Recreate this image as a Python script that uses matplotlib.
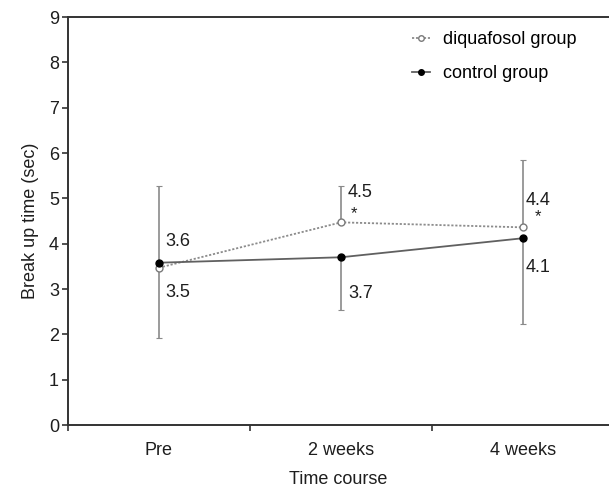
import matplotlib.pyplot as plt

plt.rcParams['font.family'] = ['Liberation Sans', 'DejaVu Sans']

categories = ['Pre', '2 weeks', '4 weeks']
diquafosol = [3.47, 4.47, 4.36]
control = [3.58, 3.70, 4.12]
# upper whisker shown for diquafosol, lower whisker for control
diq_err_up = [1.81, 0.80, 1.48]
ctl_err_down = [1.66, 1.16, 1.89]
diq_labels = ['3.5', '4.5', '4.4']
ctl_labels = ['3.6', '3.7', '4.1']
signif = ['', '*', '*']

xpos = [0.5, 1.5, 2.5]

W, H = 609, 488
fig = plt.figure(figsize=(W / 100, H / 100), dpi=100)
ax = fig.add_axes([68 / W, 63 / H, (W - 68) / W, 408 / H])

err_col = '#8a8a8a'
ax.errorbar(xpos, diquafosol, yerr=[[0, 0, 0], diq_err_up], fmt='none',
            ecolor=err_col, elinewidth=1.2, capsize=2, capthick=0.8, zorder=1)
ax.errorbar(xpos, control, yerr=[ctl_err_down, [0, 0, 0]], fmt='none',
            ecolor=err_col, elinewidth=1.2, capsize=2, capthick=0.8, zorder=1)

ax.plot(xpos, diquafosol, linestyle=(0, (1.2, 1.0)), color='#8c8c8c', lw=1.3,
        marker='o', markersize=5, markerfacecolor='white',
        markeredgecolor='#7a7a7a', markeredgewidth=1.0,
        label='diquafosol group', zorder=3)
ax.plot(xpos, control, linestyle='-', color='#606060', lw=1.3,
        marker='o', markersize=5, markerfacecolor='black',
        markeredgecolor='black', label='control group', zorder=3)

# value labels
txt = dict(fontsize=13, color='#1e1e1e', ha='left', va='center')
ax.text(0.533, 4.05, ctl_labels[0], **txt)
ax.text(0.533, 2.93, diq_labels[0], **txt)
ax.text(1.538, 5.12, diq_labels[1], **txt)
ax.text(1.538, 2.91, ctl_labels[1], **txt)
ax.text(2.516, 4.96, diq_labels[2], **txt)
ax.text(2.516, 3.47, ctl_labels[2], **txt)
ax.text(1.556, 4.66, signif[1], fontsize=12, color='#1e1e1e',
        ha='left', va='center')
ax.text(2.567, 4.60, signif[2], fontsize=12, color='#1e1e1e',
        ha='left', va='center')

ax.set_xlim(0, (W - 68) / 182)
ax.set_ylim(0, 9)
ax.set_yticks(range(10))
ax.set_xticks([0, 1, 2])
ax.set_xticklabels([])
ax.set_xticks(xpos, minor=True)
ax.set_xticklabels(categories, minor=True)
ax.tick_params(axis='x', which='minor', length=0, pad=12, labelsize=13,
               labelcolor='#1e1e1e')
ax.tick_params(axis='x', which='major', length=4, width=1.2, color='#333333')
ax.tick_params(axis='y', length=4.5, width=1.2, color='#333333', labelsize=13,
               pad=2, labelcolor='#1e1e1e')

for s in ['left', 'bottom', 'top']:
    ax.spines[s].set_linewidth(1.4)
    ax.spines[s].set_color('#333333')
ax.spines['right'].set_visible(False)

ax.set_ylabel('Break up time (sec)', fontsize=13, labelpad=7, color='#1e1e1e')
ax.set_xlabel('Time course', fontsize=13, labelpad=9, color='#1e1e1e')

ax.legend(loc='upper left', bbox_to_anchor=(412 / W, 1 - 31 / H),
          bbox_transform=fig.transFigure, frameon=False, fontsize=13,
          handlelength=1.0, handletextpad=0.7, labelspacing=0.95,
          borderpad=0, borderaxespad=0, markerscale=0.8)

fig.savefig('out.png', dpi=100)
